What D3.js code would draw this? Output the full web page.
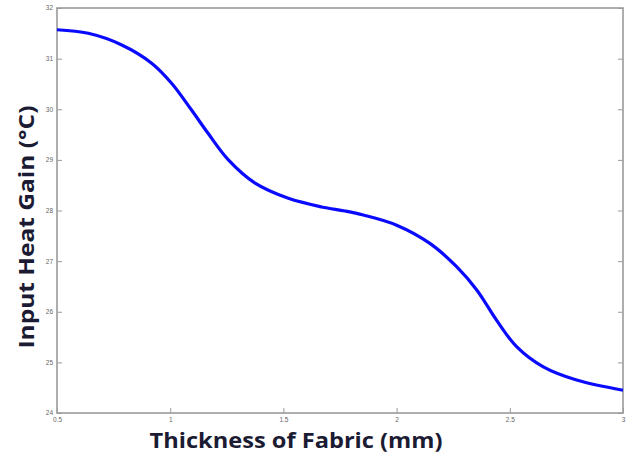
<!DOCTYPE html>
<html><head><meta charset="utf-8">
<script src="https://cdn.jsdelivr.net/npm/d3@7"></script>
<style>body{margin:0;background:#fff}svg{display:block}</style>
</head><body><svg id="c" width="629" height="455"></svg>
<script>
const thickness = [0.5,0.638,0.786,0.918,1.007,1.095,1.168,1.257,1.375,1.522,1.669,1.772,1.853,2.0,2.147,2.265,2.354,2.442,2.53,2.648,2.795,3.0];
const heatGain  = [31.57,31.50,31.27,30.91,30.51,29.98,29.52,29.0,28.54,28.24,28.07,27.99,27.91,27.71,27.35,26.89,26.43,25.83,25.31,24.91,24.65,24.45];
const xTicks = [0.5,1,1.5,2,2.5,3];
const xTickLabels = ["0.5","1","1.5","2","2.5","3"];
const yTicks = [24,25,26,27,28,29,30,31,32];
const yTickLabels = ["24","25","26","27","28","29","30","31","32"];
const xTitle = "Thickness of Fabric (mm)";
const yTitle = "Input Heat Gain (°C)";

const svg = d3.select("#c");
const L=57,R=623,T=8,B=413;
const x = d3.scaleLinear().domain([0.5,3]).range([L,R]);
const y = d3.scaleLinear().domain([24,32]).range([B,T]);
const axisCol="#9a9a9a";

svg.append("rect").attr("x",L).attr("y",T).attr("width",R-L).attr("height",B-T)
  .attr("fill","none").attr("stroke",axisCol).attr("stroke-width",1.6);

const xa = svg.append("g").attr("transform",`translate(0,${B})`)
  .call(d3.axisBottom(x).tickValues(xTicks).tickSize(-5).tickPadding(4).tickFormat((d,i)=>xTickLabels[i]));
const ya = svg.append("g").attr("transform",`translate(${L},0)`)
  .call(d3.axisLeft(y).tickValues(yTicks).tickSize(-5).tickPadding(4).tickFormat((d,i)=>yTickLabels[i]));
const yr = svg.append("g").attr("transform",`translate(${R},0)`)
  .call(d3.axisRight(y).tickValues(yTicks).tickSize(-5).tickFormat(""));
[xa,ya,yr].forEach(g=>{
  g.select(".domain").remove();
  g.selectAll(".tick line").attr("stroke",axisCol).attr("stroke-width",1);
  g.selectAll(".tick text").attr("fill","#666").attr("font-size","6.5px").attr("font-family","Liberation Sans, sans-serif");
});
ya.selectAll(".tick text").attr("dy","0.3em");

const line = d3.line().x((d,i)=>x(thickness[i])).y(d=>y(d)).curve(d3.curveCatmullRom.alpha(0.5));
svg.append("path").datum(heatGain).attr("d",line).attr("fill","none")
  .attr("stroke","#0a0aff").attr("stroke-width",3.2).attr("stroke-linejoin","round");

svg.append("text").attr("x",296).attr("y",448).attr("text-anchor","middle")
  .attr("font-family","Open Sans, sans-serif").attr("font-weight","bold").attr("font-size","21px")
  .attr("textLength",293).attr("lengthAdjust","spacingAndGlyphs")
  .attr("fill","#1b1b33").text(xTitle);
svg.append("text").attr("transform","translate(34,227) rotate(-90)").attr("text-anchor","middle")
  .attr("font-family","Open Sans, sans-serif").attr("font-weight","bold").attr("font-size","22px")
  .attr("textLength",243).attr("lengthAdjust","spacingAndGlyphs")
  .attr("fill","#1b1b33").text(yTitle);
</script></body></html>
